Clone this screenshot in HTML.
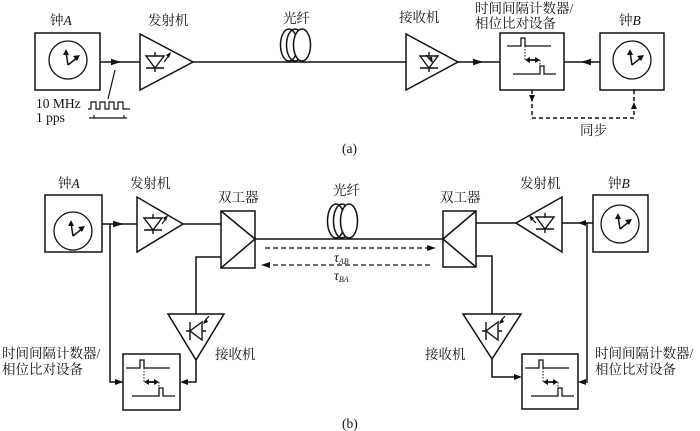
<!DOCTYPE html>
<html><head><meta charset="utf-8"><style>
html,body{margin:0;padding:0;background:#fff}
svg{display:block}
text{font-family:"Liberation Serif","Noto Serif CJK SC","Noto Sans CJK SC",serif;font-size:13.5px;fill:#111}
</style></head><body>
<svg width="700" height="431" viewBox="0 0 700 431" xmlns="http://www.w3.org/2000/svg">
<defs>
<marker id="ar" markerWidth="10" markerHeight="8" refX="9" refY="4" orient="auto" markerUnits="userSpaceOnUse"><path d="M0,0.8 L10,4 L0,7.2 Z" fill="#111"/></marker>
<g id="clock">
 <circle cx="0" cy="0" r="19" fill="none" stroke="#111" stroke-width="1.3"/>
 <path d="M0,5 L-2,-8 M0,5 L10,-3" stroke="#111" stroke-width="1.5" fill="none"/>
 <path d="M-2,-11 L-5,-5 L1,-5 Z M12,-5 L5,-4 L9,1 Z" fill="#111"/>
</g>
<g id="tic">
 <path d="M-25,-14 L-11,-14 L-11,-22 L-7,-22 L-7,-14 L19,-14" fill="none" stroke="#111" stroke-width="1.3"/>
 <path d="M-19,14 L8,14 L8,6 L12,6 L12,14 L24,14" fill="none" stroke="#111" stroke-width="1.3"/>
 <path d="M-7,-14 L-7,0 M8,0 L8,6" stroke="#111" stroke-width="1" stroke-dasharray="1.5,1.5"/>
 <path d="M-4,0 L5,0" stroke="#111" stroke-width="1.8"/>
 <path d="M-7,0 L-2,-3 L-2,3 Z M8,0 L3,-3 L3,3 Z" fill="#111"/>
</g>
<g id="diode">
 <path d="M-9,-6 L9,-6 L0,6 Z M-9,6 L9,6 M0,6 L0,10 M0,-6 L0,-10" fill="none" stroke="#111" stroke-width="1.4"/>
</g>
</defs>
<g stroke="#111" stroke-width="1.5" fill="none">
<!-- (a) -->
<rect x="35" y="33" width="65" height="57"/>
<line x1="100" y1="62" x2="120" y2="62" marker-end="url(#ar)"/>
<line x1="118" y1="62" x2="140" y2="62"/>
<path d="M140,34 L140,90 L193,62 Z"/>
<line x1="193" y1="62" x2="406" y2="62"/>
<ellipse cx="289" cy="45" rx="8.5" ry="16"/>
<ellipse cx="295" cy="45" rx="8.5" ry="16"/>
<ellipse cx="302" cy="45" rx="8.5" ry="16" fill="#fff"/>
<path d="M406,34 L406,90 L458,62 Z"/>
<line x1="458" y1="62" x2="482" y2="62" marker-end="url(#ar)"/>
<line x1="480" y1="62" x2="500" y2="62"/>
<rect x="500" y="33" width="64" height="57"/>
<line x1="564" y1="62" x2="584" y2="62"/>
<line x1="600" y1="62" x2="582" y2="62" marker-end="url(#ar)"/>
<rect x="600" y="33" width="64" height="57"/>
<path d="M532,90 L532,118 L634,118 L634,90" stroke-dasharray="4,3"/>
<path d="M108,99 L115,70" stroke-width="1.2"/>
<path d="M88,109 L91,109 L91,102 L96,102 L96,109 L100,109 L100,102 L105,102 L105,109 L109,109 L109,102 L114,102 L114,109 L118,109 L118,102 L123,102 L123,109 L130,109" stroke-width="1.2"/>
<path d="M89,118 L127,118 M94,118 L94,115 M124,118 L124,115" stroke-width="1.2"/>
<!-- (b) left -->
<rect x="45" y="195" width="57" height="57"/>
<line x1="102" y1="224" x2="122" y2="224" marker-end="url(#ar)"/>
<line x1="120" y1="224" x2="137" y2="224"/>
<path d="M110,224 L110,382 L123,382"/>
<path d="M137,197 L137,252 L183,224 Z"/>
<line x1="183" y1="224" x2="221" y2="224"/>
<rect x="221" y="211" width="34" height="57"/>
<path d="M221,211 L255,239 L221,268"/>
<line x1="255" y1="239" x2="443" y2="239"/>
<ellipse cx="336" cy="221" rx="8.5" ry="17"/>
<ellipse cx="342" cy="221" rx="8.5" ry="17"/>
<ellipse cx="349" cy="221" rx="8.5" ry="17" fill="#fff"/>
<path d="M265,248 L430,248" stroke-dasharray="5,3" stroke-width="1.2"/>
<path d="M430,265 L265,265" stroke-dasharray="5,3" stroke-width="1.2"/>
<path d="M221,257 L196,257 L196,314"/>
<path d="M168,314 L224,314 L196,360 Z"/>
<path d="M196,360 L196,382 L182,382"/>
<rect x="123" y="354" width="57" height="56"/>
<!-- (b) right -->
<rect x="443" y="211" width="33" height="56"/>
<path d="M476,211 L443,239 L476,267"/>
<line x1="476" y1="223" x2="516" y2="223"/>
<path d="M516,223 L562,197 L562,252 Z"/>
<line x1="562" y1="223" x2="593" y2="223"/>
<path d="M587,223 L587,382 L580,382"/>
<rect x="593" y="195" width="55" height="57"/>
<path d="M476,256 L492,256 L492,314"/>
<path d="M463,314 L521,314 L492,359 Z"/>
<path d="M492,359 L492,377 L520,377"/>
<rect x="522" y="354" width="56" height="55"/>
</g>
<g fill="#111">
<path d="M532,102 L529,95 L535,95 Z"/>
<path d="M634,102 L631,109 L637,109 Z"/>
<path d="M436,248 L427,245 L427,251 Z"/>
<path d="M261,265 L270,262 L270,268 Z"/>
<path d="M123,382 L115,379 L115,385 Z"/>
<path d="M180,382 L188,379 L188,385 Z"/>
<path d="M522,377 L514,374 L514,380 Z"/>
<path d="M578,382 L586,379 L586,385 Z"/>
<path d="M578,223 L586,220 L586,226 Z"/>
</g>
<use href="#clock" x="68" y="60"/>
<use href="#clock" x="632" y="60"/>
<use href="#clock" x="73" y="231"/>
<use href="#clock" x="620" y="224"/>
<use href="#tic" x="532" y="60"/>
<use href="#tic" x="151" y="382"/>
<use href="#tic" x="550" y="382"/>
<use href="#diode" x="155" y="62"/>
<g stroke="#111" stroke-width="1.2" fill="none">
<path d="M164,62 L170,54"/><path d="M426,55 L432,62"/>
</g>
<g fill="#111"><path d="M171,52 L166,55 L169,58 Z"/><path d="M433,64 L429,57 L432,57 Z"/></g>
<use href="#diode" x="429" y="62"/>
<use href="#diode" x="153" y="224"/>
<use href="#diode" x="545" y="223"/>
<g transform="translate(196,331) rotate(90)"><use href="#diode"/></g>
<g transform="translate(492,331) rotate(90)"><use href="#diode"/></g>
<g stroke="#111" stroke-width="1.2"><path d="M162,224 L167,217"/><path d="M536,223 L530,217"/><path d="M204,322 L209,316"/><path d="M500,322 L505,316"/></g>
<g fill="#111"><path d="M168,215 L163,218 L166,221 Z"/><path d="M529,215 L534,218 L531,221 Z"/><path d="M203,324 L206,318 L208,322 Z"/><path d="M499,324 L502,318 L504,322 Z"/></g>
<text x="50" y="25">钟<tspan font-style="italic">A</tspan></text>
<text x="148" y="25">发射机</text>
<text x="283" y="23">光纤</text>
<text x="399" y="22">接收机</text>
<text x="475" y="13">时间间隔计数器/</text>
<text x="475" y="28">相位比对设备</text>
<text x="619" y="25">钟<tspan font-style="italic">B</tspan></text>
<text x="36" y="108">10 MHz</text>
<text x="36" y="122">1 pps</text>
<text x="580" y="135">同步</text>
<text x="342" y="153" font-size="12">(a)</text>
<text x="58" y="188">钟<tspan font-style="italic">A</tspan></text>
<text x="130" y="188">发射机</text>
<text x="218" y="202">双工器</text>
<text x="333" y="195">光纤</text>
<text x="440" y="202">双工器</text>
<text x="520" y="188">发射机</text>
<text x="608" y="188">钟<tspan font-style="italic">B</tspan></text>
<text x="334" y="262" font-size="12" font-style="italic">τ<tspan font-size="8" dy="2">AB</tspan></text>
<text x="334" y="280" font-size="12" font-style="italic">τ<tspan font-size="8" dy="2">BA</tspan></text>
<text x="215" y="359">接收机</text>
<text x="425" y="359">接收机</text>
<text x="2" y="358">时间间隔计数器/</text>
<text x="2" y="374">相位比对设备</text>
<text x="595" y="358">时间间隔计数器/</text>
<text x="595" y="374">相位比对设备</text>
<text x="342" y="428" font-size="12">(b)</text>
</svg>
</body></html>
